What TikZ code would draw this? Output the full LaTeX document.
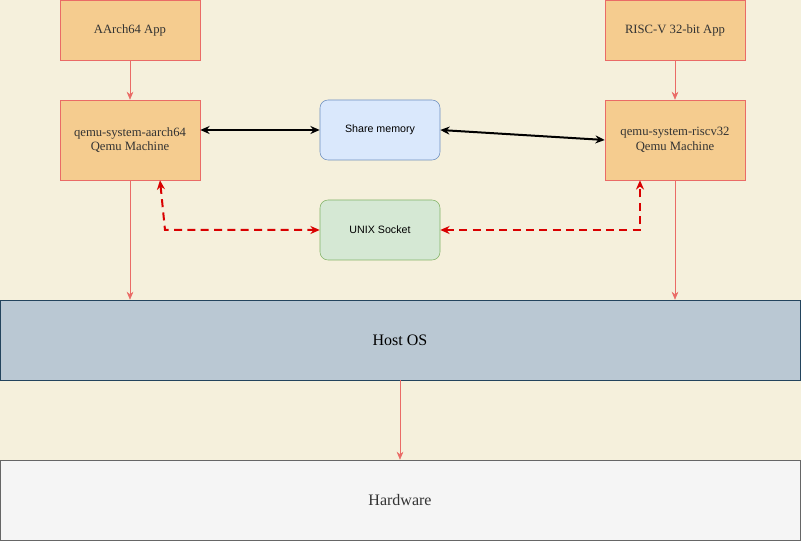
\documentclass[tikz,border=0pt]{standalone}
\usepackage{fontspec}
\setmainfont{Liberation Serif}
\setsansfont{Liberation Sans}
\usetikzlibrary{arrows.meta}
\definecolor{bg}{HTML}{F5F0DC}
\definecolor{ofill}{HTML}{F5CC8F}
\definecolor{ostroke}{HTML}{EA6B66}
\definecolor{bfill}{HTML}{DAE8FC}
\definecolor{bstroke}{HTML}{6C8EBF}
\definecolor{gfill}{HTML}{D5E8D4}
\definecolor{gstroke}{HTML}{82B366}
\definecolor{hfill}{HTML}{BAC8D3}
\definecolor{hstroke}{HTML}{23445D}
\definecolor{wfill}{HTML}{F5F5F5}
\definecolor{wstroke}{HTML}{666666}
\definecolor{arr}{HTML}{EA6B66}
\begin{document}
\begin{tikzpicture}[x=0.75pt,y=-0.75pt,
  obox/.style={draw=ostroke,fill=ofill,minimum width=105pt,minimum height=45pt,inner sep=0pt,align=center,font=\fontsize{9.5}{11}\selectfont,text=black!80},
  abox/.style={draw=ostroke,fill=ofill,minimum width=105pt,minimum height=60pt,inner sep=0pt,align=center,font=\fontsize{9.5}{11}\selectfont,text=black!80},
  rbox/.style={rounded corners=6pt,minimum width=90pt,minimum height=45pt,inner sep=0pt,font=\sffamily\fontsize{8}{10}\selectfont},
  big/.style={minimum width=600pt,minimum height=60pt,inner sep=0pt,font=\fontsize{12}{14}\selectfont},
  sal/.style={draw=arr,-{Stealth[length=6pt,width=5pt]}},
  blk/.style={draw=black,line width=1.5pt,{Stealth[length=7pt,width=6pt]}-{Stealth[length=7pt,width=6pt]}},
  red/.style={draw=red!85!black,line width=1.5pt,dash pattern=on 6pt off 4pt,{Stealth[length=7pt,width=6pt]}-{Stealth[length=7pt,width=6pt]}}]
\fill[bg] (0,0) rectangle (801,541);
\useasboundingbox (0,0) rectangle (801,541);
\node[obox] (a1) at (130,30) {AArch64 App};
\node[abox] (q1) at (130,140) {qemu-system-aarch64\\Qemu Machine};
\node[obox] (a2) at (675,30) {RISC-V 32-bit App};
\node[abox] (q2) at (675,140) {qemu-system-riscv32\\Qemu Machine};
\node[rbox,draw=bstroke,fill=bfill] (sm) at (380,130) {Share memory};
\node[rbox,draw=gstroke,fill=gfill] (us) at (380,230) {UNIX Socket};
\node[big,draw=hstroke,fill=hfill] (os) at (400,340) {Host OS};
\node[big,draw=wstroke,fill=wfill,text=black!80] (hw) at (400,500) {Hardware};
\draw[sal] (a1) -- (q1);
\draw[sal] (a2) -- (q2);
\draw[sal] (q1.south) -- (q1.south|-os.north);
\draw[sal] (q2.south) -- (q2.south|-os.north);
\draw[sal] (os) -- (hw);
\draw[blk] (q1.east|-sm) -- (sm.west);
\draw[blk] (sm.east) -- (q2.west);
\coordinate (c1) at (165,230);
\coordinate (c2) at (640,230);
\draw[red] ([xshift=-3.75pt]q1.south) ++(26.25pt,0) coordinate (s1) -- (c1) -- (us.west);
\draw[red] (us.east) -- (c2) -- (c2|-q2.south);
\end{tikzpicture}
\end{document}
